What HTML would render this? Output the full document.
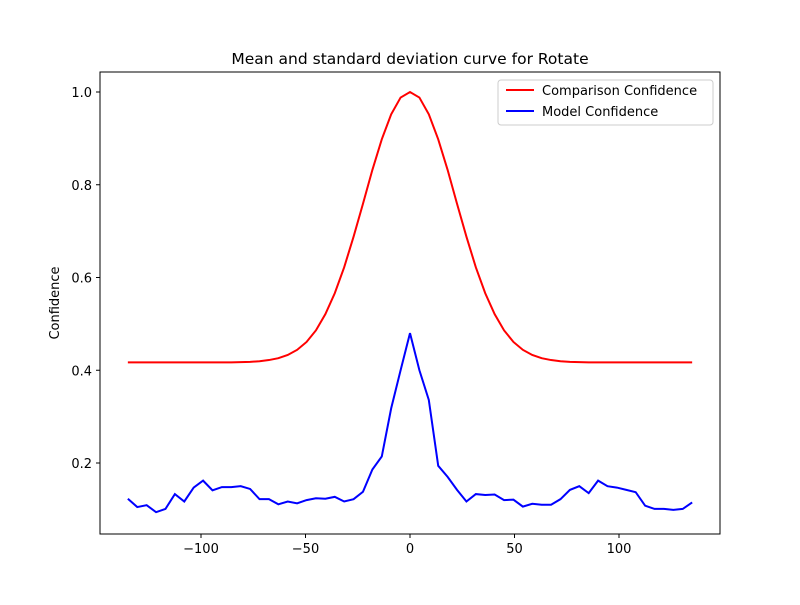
<!DOCTYPE html>
<html><head><meta charset="utf-8"><style>
body{margin:0;background:#fff;font-family:"Liberation Sans","DejaVu Sans",sans-serif}
</style></head><body>
<svg id="chart" width="800" height="600" xmlns="http://www.w3.org/2000/svg" font-family="DejaVu Sans, Liberation Sans, sans-serif">
<rect width="800" height="600" fill="#fff"/>
<text x="410" y="64" font-size="15.5" text-anchor="middle">Mean and standard deviation curve for Rotate</text>
<text x="0" y="0" font-size="13" text-anchor="middle" transform="translate(59,303) rotate(-90)">Confidence</text>
<g id="marks"></g>
<rect x="100" y="72" width="620" height="462" fill="none" stroke="#000" stroke-width="1"/>
<g id="xt"></g><g id="yt"></g>
<g>
<rect x="498" y="80" width="215" height="45" rx="3" fill="#fff" stroke="#ccc" stroke-width="1"/>
<line x1="506" y1="90" x2="534" y2="90" stroke="red" stroke-width="2"/>
<text x="542" y="95" font-size="13">Comparison Confidence</text>
<line x1="506" y1="111" x2="534" y2="111" stroke="blue" stroke-width="2"/>
<text x="542" y="116" font-size="13">Model Confidence</text>
</g>
</svg>
<script>
const xStart=-135, xStep=4.5;
const comparison=[0.417,0.417,0.417,0.417,0.417,0.417,0.417,0.417,0.417,0.417,0.417,0.417,0.4176,0.418,0.4195,0.422,0.426,0.433,0.444,0.461,0.486,0.521,0.566,0.622,0.688,0.759,0.832,0.898,0.952,0.988,1.0,0.988,0.952,0.898,0.832,0.759,0.688,0.622,0.566,0.521,0.486,0.461,0.444,0.433,0.426,0.422,0.4195,0.418,0.4176,0.417,0.417,0.417,0.417,0.417,0.417,0.417,0.417,0.417,0.417,0.417,0.417];
const model=[0.123,0.105,0.109,0.094,0.101,0.133,0.117,0.147,0.162,0.141,0.148,0.148,0.150,0.144,0.122,0.122,0.111,0.117,0.113,0.120,0.124,0.123,0.127,0.117,0.122,0.138,0.186,0.214,0.318,0.40,0.48,0.40,0.336,0.194,0.170,0.142,0.117,0.133,0.131,0.132,0.120,0.121,0.106,0.112,0.110,0.110,0.122,0.142,0.150,0.135,0.162,0.150,0.147,0.142,0.137,0.108,0.101,0.101,0.099,0.101,0.115];
const xTicks=[-100,-50,0,50,100];
const yTicks=[0.2,0.4,0.6,0.8,1.0];
const X=v=>410+v*2.09;
const Y=v=>463-(v-0.2)*463.75;
const NS="http://www.w3.org/2000/svg";
const marks=document.getElementById('marks');
function line(arr,color,name){
  const p=document.createElementNS(NS,'polyline');
  p.setAttribute('points',arr.map((v,i)=>X(xStart+i*xStep)+','+Y(v)).join(' '));
  p.setAttribute('fill','none');p.setAttribute('stroke',color);p.setAttribute('stroke-width','2');
  
  
  marks.appendChild(p);
}
line(comparison,'red','comparison-confidence-line');
line(model,'blue','model-confidence-line');
const xt=document.getElementById('xt');
xTicks.forEach(t=>{
  const l=document.createElementNS(NS,'line');
  l.setAttribute('x1',X(t));l.setAttribute('x2',X(t));l.setAttribute('y1',534);l.setAttribute('y2',538);l.setAttribute('stroke','#000');
  
  
  xt.appendChild(l);
  const s=document.createElementNS(NS,'text');
  s.setAttribute('x',X(t));s.setAttribute('y',553);s.setAttribute('font-size','13');s.setAttribute('text-anchor','middle');
  s.textContent=(t<0?'\u2212'+(-t):t);
  
  
  xt.appendChild(s);
});
const yt=document.getElementById('yt');
yTicks.forEach(t=>{
  const l=document.createElementNS(NS,'line');
  l.setAttribute('x1',96);l.setAttribute('x2',100);l.setAttribute('y1',Y(t));l.setAttribute('y2',Y(t));l.setAttribute('stroke','#000');
  
  
  yt.appendChild(l);
  const s=document.createElementNS(NS,'text');
  s.setAttribute('x',92);s.setAttribute('y',Y(t)+5);s.setAttribute('font-size','13');s.setAttribute('text-anchor','end');
  s.textContent=t.toFixed(1);
  
  
  yt.appendChild(s);
});
</script>
</body></html>
